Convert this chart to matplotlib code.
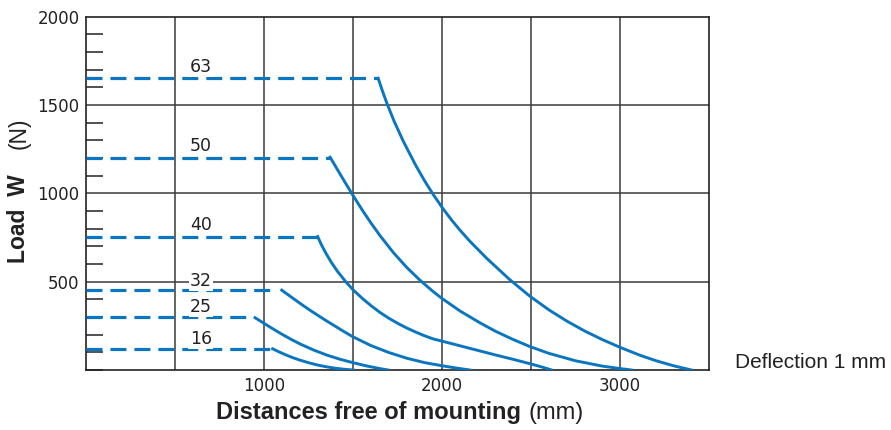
import numpy as np
import matplotlib.pyplot as plt
from matplotlib.ticker import MultipleLocator

plt.rcParams['font.family'] = ['Liberation Sans', 'DejaVu Sans']

blue = '#0a76c0'
grid_col = '#3a3a3a'

# bore size -> rated load at short span (dashed level)
sizes = ['16', '25', '32', '40', '50', '63']
levels = [120, 300, 450, 755, 1200, 1650]

# solid curves: free distance (mm) vs. load (N)
x16 = [1047, 1080, 1120, 1160, 1200, 1250, 1300, 1350, 1400, 1450, 1500]
y16 = [120, 104, 86, 70, 56, 41, 28, 18, 10, 4, 0]
x25 = [948, 1000, 1050, 1100, 1150, 1200, 1275, 1350, 1425, 1500, 1575, 1650, 1697]
y25 = [296, 263, 232, 202, 174, 148, 114, 85, 61, 41, 23, 8, 0]
x32 = [1098, 1150, 1200, 1250, 1300, 1350, 1400, 1450, 1500, 1600, 1700, 1800,
       1900, 2000, 2080, 2156]
y32 = [452, 414, 378, 343, 310, 278, 247, 216, 187, 138, 99, 67, 42, 24, 11, 0]
x40 = [1300, 1320, 1345, 1375, 1410, 1460, 1500, 1550, 1600, 1650, 1700, 1750,
       1800, 1850, 1900, 1949, 2000, 2100, 2200, 2300, 2400, 2492, 2560, 2615]
y40 = [755, 711, 663, 612, 560, 497, 453, 406, 364, 326, 293, 264, 238, 215,
       194, 176, 163, 137, 111, 85, 60, 36, 17, 0]
x50 = [1370, 1430, 1491, 1550, 1600, 1650, 1725, 1800, 1875, 1950, 2000, 2100,
       2212, 2300, 2400, 2492, 2600, 2750, 2900, 2994, 3064]
y50 = [1204, 1102, 1000, 906, 831, 761, 665, 581, 508, 443, 404, 334, 267,
       219, 172, 133, 94, 52, 22, 9, 0]
x63 = [1640, 1665, 1688, 1730, 1781, 1850, 1900, 1950, 2000, 2050, 2100, 2156,
       2250, 2380, 2492, 2600, 2700, 2800, 2900, 3000, 3110, 3200, 3300, 3401]
y63 = [1651, 1576, 1512, 1407, 1295, 1160, 1072, 992, 919, 852, 791, 728,
       632, 511, 418, 340, 277, 221, 172, 128, 84, 53, 24, 0]

curves_x = [x16, x25, x32, x40, x50, x63]
curves_y = [y16, y25, y32, y40, y50, y63]
dash_end = [1047, 945, 1040, 1300, 1370, 1640]
label_y = [175, 357, 504, 821, 1268, 1715]

fig = plt.figure(figsize=(8.91, 4.30), dpi=100)
ax = fig.add_axes([0.0969, 0.1395, 0.699, 0.822])

ax.set_xlim(0, 3500)
ax.set_ylim(0, 2000)

for v in [500, 1000, 1500, 2000, 2500, 3000]:
    ax.axvline(v, color=grid_col, lw=1.1, zorder=1)
for v in [500, 1000, 1500]:
    ax.axhline(v, color=grid_col, lw=1.1, zorder=1)

for i in range(len(sizes)):
    ax.plot([0, dash_end[i]], [levels[i], levels[i]], color=blue, lw=2.3,
            linestyle=(0, (5.0, 2.5)), solid_capstyle='butt', zorder=3)
    ax.plot(curves_x[i], curves_y[i], color=blue, lw=2.1, zorder=3,
            solid_joinstyle='round')
    ax.text(644, label_y[i], sizes[i], fontsize=12.5, ha='center', va='center',
            color='#222222', zorder=4, family='DejaVu Sans',
            bbox=dict(facecolor='white', edgecolor='none', pad=1.0))

ax.set_xticks([1000, 2000, 3000])
ax.set_yticks([500, 1000, 1500, 2000])
ax.yaxis.set_minor_locator(MultipleLocator(100))
ax.tick_params(axis='both', which='major', length=0, labelsize=12,
               labelcolor='#222222', pad=5)
ax.tick_params(axis='y', which='minor', direction='in', length=12.5,
               width=1.1, color='#222222')
for lab in ax.get_xticklabels() + ax.get_yticklabels():
    lab.set_family('DejaVu Sans')
for s in ax.spines.values():
    s.set_color('#222222')
    s.set_linewidth(1.2)

fig.text(0.0213, 0.492, 'Load  W', rotation=90, ha='center', va='center',
         fontsize=16.5, fontweight='bold', color='#222222')
fig.text(0.0213, 0.69, '(N)', rotation=90, ha='center', va='center',
         fontsize=16.5, color='#222222')

fig.text(0.585, 0.040, 'Distances free of mounting', ha='right', va='center',
         fontsize=17, fontweight='bold', color='#222222')
fig.text(0.5926, 0.040, '(mm)', ha='left', va='center', fontsize=17,
         color='#222222')

fig.text(0.825, 0.158, 'Deflection 1 mm', ha='left', va='center', fontsize=15,
         color='#222222')

fig.savefig('out.png', dpi=100)
